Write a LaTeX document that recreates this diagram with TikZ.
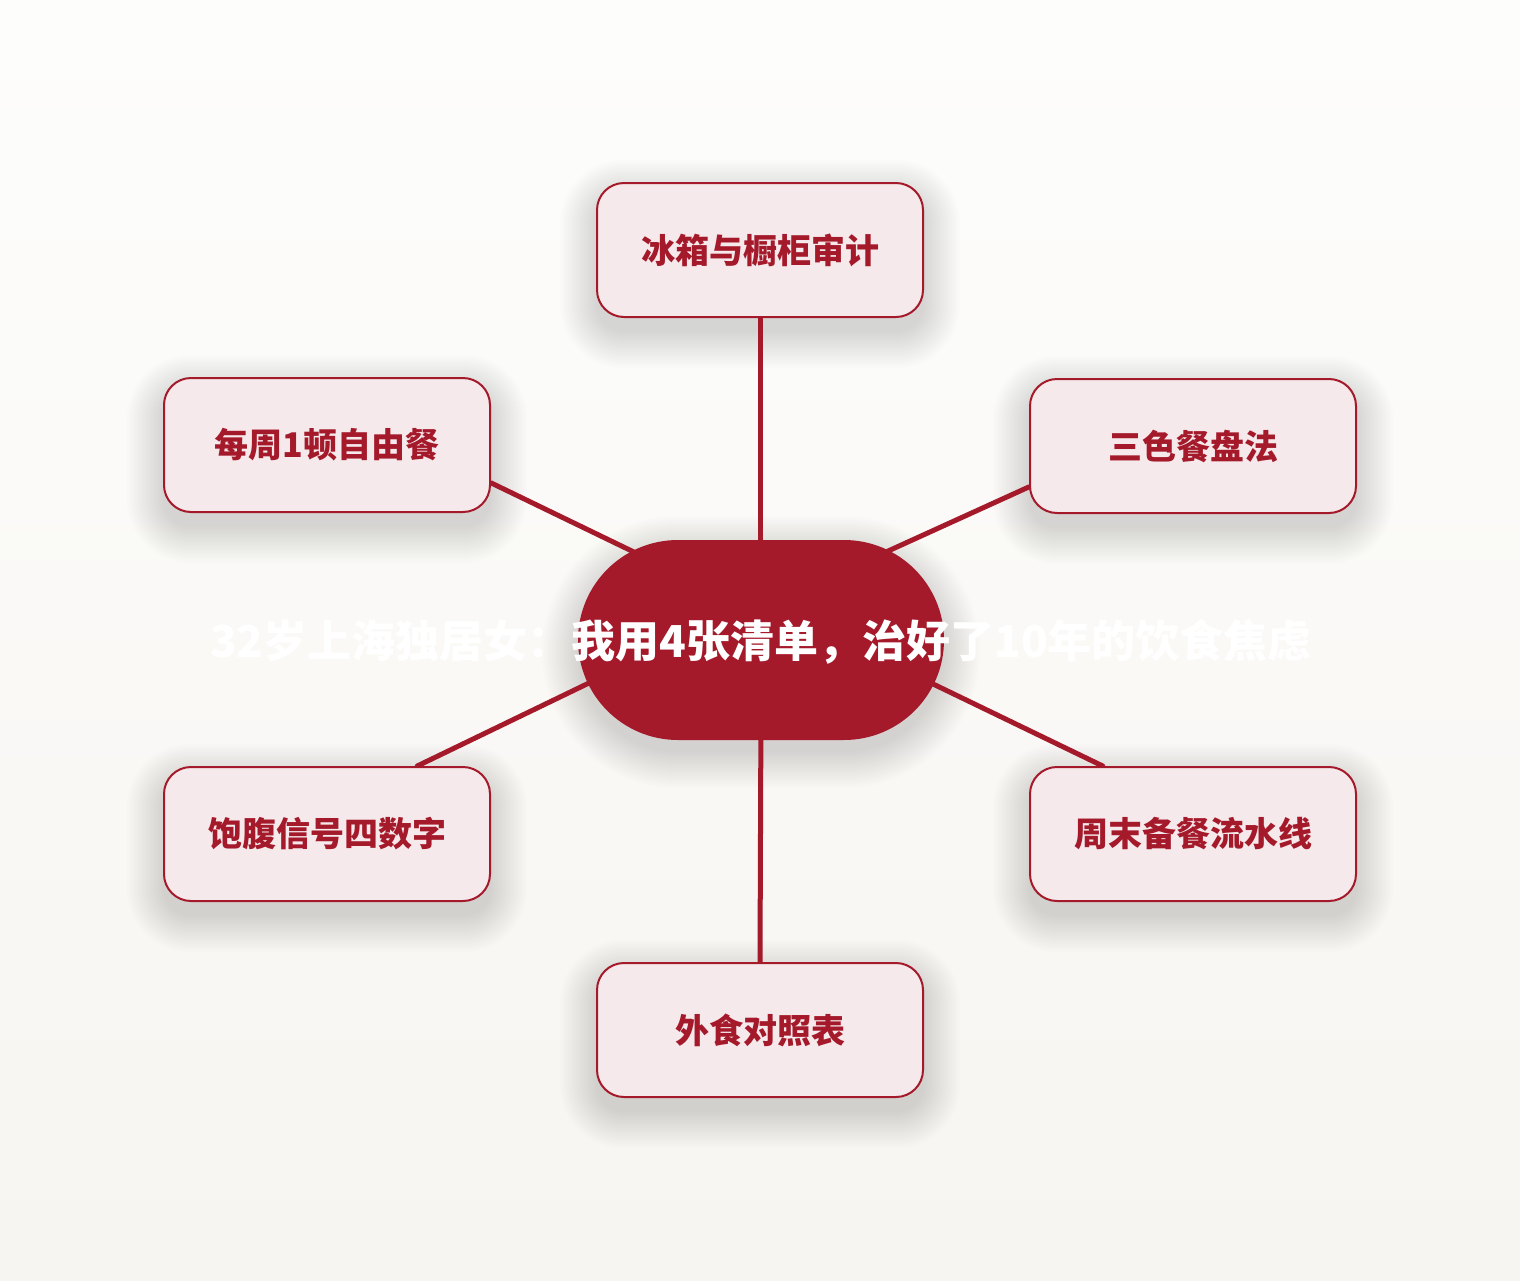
\documentclass[tikz,border=0pt]{standalone}
\usepackage{fontspec}
\setmainfont{Noto Sans CJK SC}[BoldFont={Noto Sans CJK SC Black}]
\usetikzlibrary{calc}
\pgfdeclarelayer{bg}
\pgfdeclarelayer{conn}
\pgfsetlayers{bg,conn,main}
\definecolor{dred}{HTML}{A51A2B}
\definecolor{pinkfill}{HTML}{F5E9EC}
\definecolor{bgtop}{HTML}{FDFDFC}
\definecolor{bgbot}{HTML}{F7F5F1}
\tikzset{
  box/.style={draw=dred, line width=2pt, fill=pinkfill, rounded corners=27pt,
    minimum width=326pt, minimum height=134pt, text=dred,
    font=\fontsize{34pt}{38pt}\selectfont\bfseries},
  hub/.style={fill=dred, rounded corners=100pt, minimum width=366pt, minimum height=200pt},
  conn/.style={draw=dred, line width=5pt, line cap=round},
  titletext/.style={text=white, font=\fontsize{44pt}{50pt}\selectfont\bfseries, inner sep=0pt},
  shadowlayer/.style={fill=black, fill opacity=0.0095}
}
\newcommand{\softshade}[3]{%
  \begin{pgfonlayer}{bg}
  \foreach \d in {0,2,...,36}{
    \pgfmathsetmacro{\rr}{#2+\d}
    \fill[shadowlayer, rounded corners=\rr pt]
      ($(#1.south west)+(-\d pt,-\d pt-#3pt)$) rectangle ($(#1.north east)+(\d pt,\d pt-#3pt)$);
  }
  \end{pgfonlayer}}
\begin{document}
\begin{tikzpicture}[x=1pt,y=-1pt]
\begin{pgfonlayer}{bg}
\shade[top color=bgtop, bottom color=bgbot] (0,0) rectangle (1520,1280);
\end{pgfonlayer}
\useasboundingbox (0,0) rectangle (1520,1280);

% inner end points of connectors (hidden under the hub)
\coordinate (cT) at (760,580);
\coordinate (cB) at (761,700);
\coordinate (cUL) at (700,584);
\coordinate (cUR) at (820,582);
\coordinate (cLL) at (680,639);
\coordinate (cLR) at (840,639);

\node[box] (top) at (760,250) {冰箱与橱柜审计};
\node[box] (ul) at (327,445) {每周1顿自由餐};
\node[box] (ur) at (1193,446) {三色餐盘法};
\node[box] (ll) at (327,834) {饱腹信号四数字};
\node[box] (lr) at (1193,834) {周末备餐流水线};
\node[box] (bot) at (760,1030) {外食对照表};
\node[hub] (hub) at (761,640) {};
\node[titletext] (title) at (761,642) {32岁上海独居女：我用4张清单，治好了10年的饮食焦虑};

\softshade{top}{27}{14}
\softshade{ul}{27}{14}
\softshade{ur}{27}{14}
\softshade{ll}{27}{14}
\softshade{lr}{27}{14}
\softshade{bot}{27}{14}
\softshade{hub}{100}{12}

\begin{pgfonlayer}{conn}
\draw[conn] (top.south) -- (cT);
\draw[conn] (bot.north) -- (cB);
\draw[conn] (ul.-13) -- (cUL);
\draw[conn] (ur.-166) -- (cUR);
\draw[conn] (ll.37) -- (cLL);
\draw[conn] (lr.143) -- (cLR);
\end{pgfonlayer}
\end{tikzpicture}
\end{document}
